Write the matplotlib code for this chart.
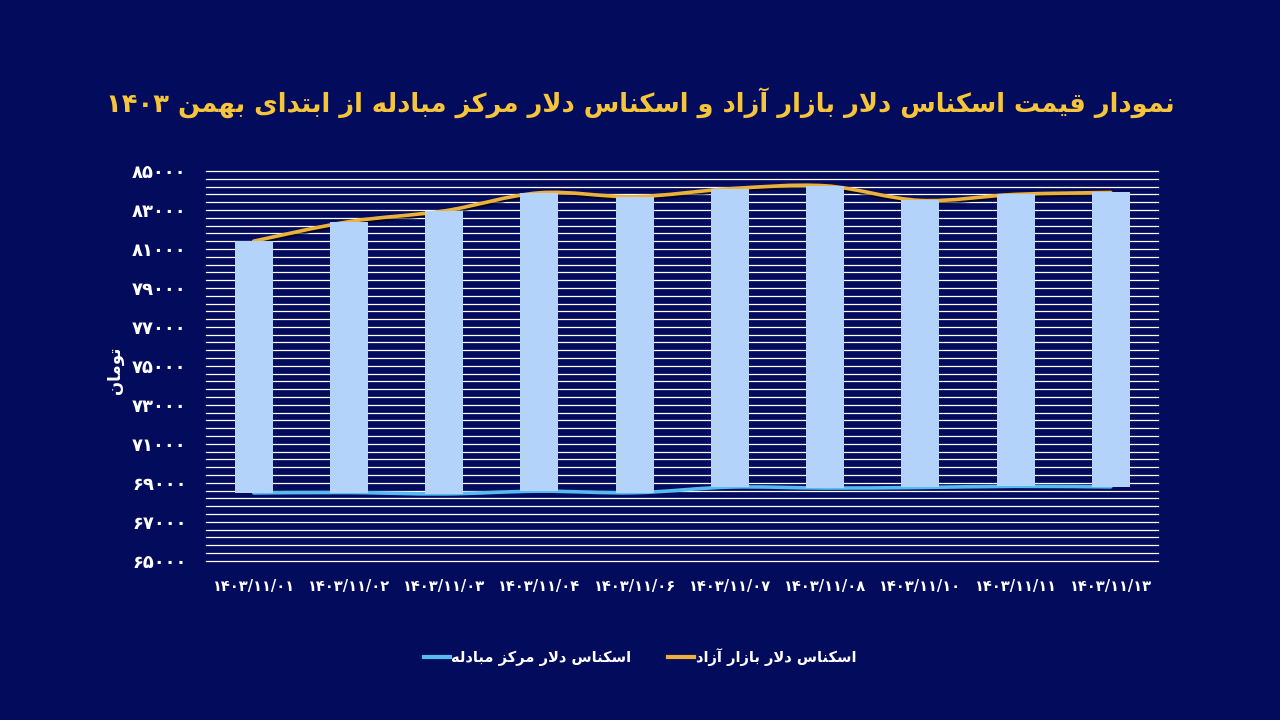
import re
import numpy as np
import matplotlib
matplotlib.use("Agg")
import matplotlib.pyplot as plt
from matplotlib.path import Path
from matplotlib.patches import PathPatch
import matplotlib.patheffects as pe

# ---------------- data ----------------
dates = ['۱۴۰۳/۱۱/۰۱', '۱۴۰۳/۱۱/۰۲', '۱۴۰۳/۱۱/۰۳', '۱۴۰۳/۱۱/۰۴', '۱۴۰۳/۱۱/۰۶',
         '۱۴۰۳/۱۱/۰۷', '۱۴۰۳/۱۱/۰۸', '۱۴۰۳/۱۱/۱۰', '۱۴۰۳/۱۱/۱۱', '۱۴۰۳/۱۱/۱۳']
free_market = [81400, 82400, 82950, 83880, 83680, 84090, 84240, 83490, 83800, 83900]
exchange_center = [68480, 68500, 68430, 68570, 68490, 68780, 68730, 68760, 68820, 68790]
ytick_values = [65000, 67000, 69000, 71000, 73000, 75000, 77000, 79000, 81000, 83000, 85000]

title_text = 'نمودار قیمت اسکناس دلار بازار آزاد و اسکناس دلار مرکز مبادله از ابتدای بهمن ۱۴۰۳'
ylabel_text = 'تومان'
label_free = 'اسکناس دلار بازار آزاد'
label_center = 'اسکناس دلار مرکز مبادله'

# ---------------- minimal Persian shaping ----------------
FORMS = {
    'ا': ('\uFE8D', '\uFE8E', None, None),
    'آ': ('\uFE81', '\uFE82', None, None),
    'ب': ('\uFE8F', '\uFE90', '\uFE91', '\uFE92'),
    'ت': ('\uFE95', '\uFE96', '\uFE97', '\uFE98'),
    'د': ('\uFEA9', '\uFEAA', None, None),
    'ر': ('\uFEAD', '\uFEAE', None, None),
    'ز': ('\uFEAF', '\uFEB0', None, None),
    'س': ('\uFEB1', '\uFEB2', '\uFEB3', '\uFEB4'),
    'ق': ('\uFED5', '\uFED6', '\uFED7', '\uFED8'),
    'ل': ('\uFEDD', '\uFEDE', '\uFEDF', '\uFEE0'),
    'م': ('\uFEE1', '\uFEE2', '\uFEE3', '\uFEE4'),
    'ن': ('\uFEE5', '\uFEE6', '\uFEE7', '\uFEE8'),
    'ه': ('\uFEE9', '\uFEEA', '\uFEEB', '\uFEEC'),
    'و': ('\uFEED', '\uFEEE', None, None),
    'ی': ('\uFBFC', '\uFBFD', '\uFBFE', '\uFBFF'),
    'ک': ('\uFB8E', '\uFB8F', '\uFB90', '\uFB91'),
}
LAMALEF = {'ا': ('\uFEFB', '\uFEFC'), 'آ': ('\uFEF5', '\uFEF6')}


def joins_next(c):
    return c in FORMS and FORMS[c][2] is not None


def shape(text):
    chars = list(text)
    n = len(chars)
    res = []
    i = 0
    while i < n:
        c = chars[i]
        if c not in FORMS:
            res.append(c)
            i += 1
            continue
        prev = chars[i - 1] if i > 0 else None
        jp = prev is not None and joins_next(prev)
        if c == 'ل' and i + 1 < n and chars[i + 1] in LAMALEF:
            lig = LAMALEF[chars[i + 1]]
            res.append(lig[1] if jp else lig[0])
            i += 2
            continue
        nxt = chars[i + 1] if i + 1 < n else None
        jn = joins_next(c) and nxt is not None and nxt in FORMS
        iso, fin, ini, med = FORMS[c]
        if jp and jn:
            g = med
        elif jp:
            g = fin
        elif jn:
            g = ini
        else:
            g = iso
        res.append(g)
        i += 1
    s = ''.join(res)[::-1]
    s = re.sub(r'[0-9۰-۹/]+', lambda m: m.group(0)[::-1], s)
    return s


def fa_digits(v):
    return str(v).translate(str.maketrans('0123456789', '۰۱۲۳۴۵۶۷۸۹'))


def smooth_path(xs, ys):
    pts = np.column_stack([xs, ys]).astype(float)
    verts = [pts[0]]
    codes = [Path.MOVETO]
    n = len(pts)
    for i in range(n - 1):
        p0 = pts[i - 1] if i > 0 else pts[i]
        p1 = pts[i]
        p2 = pts[i + 1]
        p3 = pts[i + 2] if i + 2 < n else pts[i + 1]
        c1 = p1 + (p2 - p0) / 6.0
        c2 = p2 - (p3 - p1) / 6.0
        verts += [c1, c2, p2]
        codes += [Path.CURVE4] * 3
    return Path(verts, codes)


# ---------------- style ----------------
BG = '#030B5C'
BAR = '#B3D3FA'
ORANGE = '#ECB13A'
BLUE = '#55BBF2'
GOLD = '#F7C53A'

plt.rcParams['font.family'] = ['DejaVu Sans']

fig = plt.figure(figsize=(12.8, 7.2), dpi=100, facecolor=BG)
ax = fig.add_axes([0.161, 0.2212, 0.744, 0.5413], facecolor=BG)

x = np.arange(len(dates))
ax.set_xlim(-0.5, len(dates) - 0.5)
ax.set_ylim(65000, 85000)

# gridlines
for v in np.arange(65000, 85001, 400):
    ax.axhline(v, color='white', lw=0.9, zorder=1, clip_on=False)

# lines (behind bars)
p_free = PathPatch(smooth_path(x, free_market), facecolor='none', edgecolor=ORANGE, lw=2.6,
                   zorder=2, capstyle='round',
                   path_effects=[pe.SimpleLineShadow(offset=(0.8, -1.5), shadow_color='black', alpha=0.6),
                                 pe.Normal()])
ax.add_patch(p_free)
p_center = PathPatch(smooth_path(x, exchange_center), facecolor='none', edgecolor=BLUE, lw=2.6,
                     zorder=2, capstyle='round')
ax.add_patch(p_center)

heights = np.array(free_market) - np.array(exchange_center)
ax.bar(x, heights, bottom=exchange_center, width=0.4, color=BAR, zorder=3)

for s in ax.spines.values():
    s.set_visible(False)
ax.tick_params(length=0)
ax.tick_params(axis='y', pad=14)
ax.set_yticks(ytick_values)
ax.set_yticklabels([fa_digits(v) for v in ytick_values], color='white', fontsize=13, fontweight='bold')
ax.set_xticks(x)
ax.set_xticklabels(dates, color='white', fontsize=10.5, fontweight='bold')
ax.tick_params(axis='x', pad=13)

fig.text(0.09, 0.486, shape(ylabel_text), rotation=90, color='white', fontsize=12,
         fontweight='bold', ha='center', va='center')

fig.text(0.5, 0.857, shape(title_text), color=GOLD, fontsize=18.5, fontweight='bold',
         ha='center', va='center')

h_center, = ax.plot([], [], color=BLUE, lw=3)
h_free, = ax.plot([], [], color=ORANGE, lw=3)
leg = fig.legend([h_center, h_free], [shape(label_center), shape(label_free)], ncol=2,
                 loc='center', bbox_to_anchor=(0.5, 0.087), frameon=False,
                 handlelength=1.8, columnspacing=2.5, handletextpad=0.1,
                 prop={'size': 10.5, 'weight': 'bold'})
for t in leg.get_texts():
    t.set_color('white')

fig.savefig('out.png', dpi=100, facecolor=BG)
